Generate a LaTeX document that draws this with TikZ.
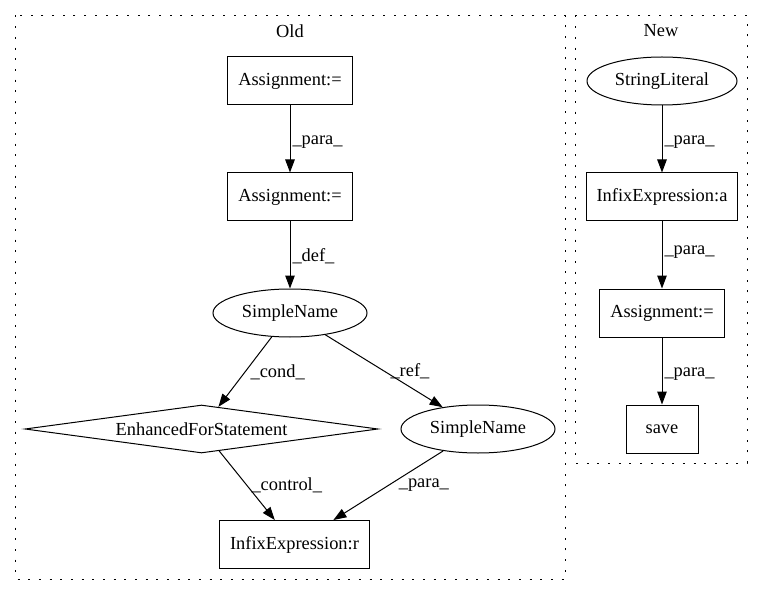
\documentclass[tikz,border=0pt]{standalone}
\usepackage{fontspec}
\setmainfont{Liberation Serif}
\usetikzlibrary{shapes.geometric,arrows.meta}

\begin{document}
\begin{tikzpicture}[x=1pt, y=-1pt, line width=1pt,
  >={Triangle[length=13pt,width=9.5pt]},
  every node/.style={font=\fontsize{18.4}{22}\selectfont},
  box/.style={draw, rectangle, inner xsep=10.5pt, minimum height=48pt, minimum width=72pt},
  oval/.style={draw, ellipse, minimum height=48pt},
  cluster/.style={draw, dash pattern=on 2pt off 8.67pt},
  lbl/.style={inner sep=2pt, right}]
  \useasboundingbox (0,0) rectangle (763,596);
  \draw[cluster] (15.5,15.5) rectangle (565,579);
  \draw[cluster] (575.5,15.5) rectangle (747,463);
  \node (old) at (290,31) {Old};
  \node (new) at (661,31) {New};
  \node[box] (a1) at (290,81) {Assignment:=};
  \node[box] (a2) at (290,197) {Assignment:=};
  \node[oval, minimum width=154pt] (sn1) at (290,313) {SimpleName};
  \node[draw, diamond, shape aspect=7.35, inner sep=0pt, minimum width=353pt, minimum height=48pt] (efs) at (201.5,429) {EnhancedForStatement};
  \node[oval, minimum width=154pt] (sn2) at (478,429) {SimpleName};
  \node[box] (ir) at (294.5,544.5) {InfixExpression:r};
  \node[oval, minimum width=150pt] (sl) at (662,81) {StringLiteral};
  \node[box] (ia) at (662,197) {InfixExpression:a};
  \node[box] (a3) at (662,313) {Assignment:=};
  \node[box] (sv) at (662,429) {save};
  \path[->]
  (a1) edge node [lbl, pos=0.55] {\_para\_} (a2)
  (a2) edge node [lbl, pos=0.52] {\_def\_} (sn1)
  (sn1) edge node [lbl, xshift=3pt] {\_cond\_} (efs)
        edge node [lbl, xshift=4pt] {\_ref\_} (sn2)
  (efs) edge node [lbl, xshift=2pt] {\_control\_} (ir)
  (sn2) edge node [lbl, xshift=8pt] {\_para\_} (ir)
  (sl) edge node [lbl, pos=0.55] {\_para\_} (ia)
  (ia) edge node [lbl, pos=0.45] {\_para\_} (a3)
  (a3) edge node [lbl, pos=0.55] {\_para\_} (sv)
  ;
\end{tikzpicture}
\end{document}
